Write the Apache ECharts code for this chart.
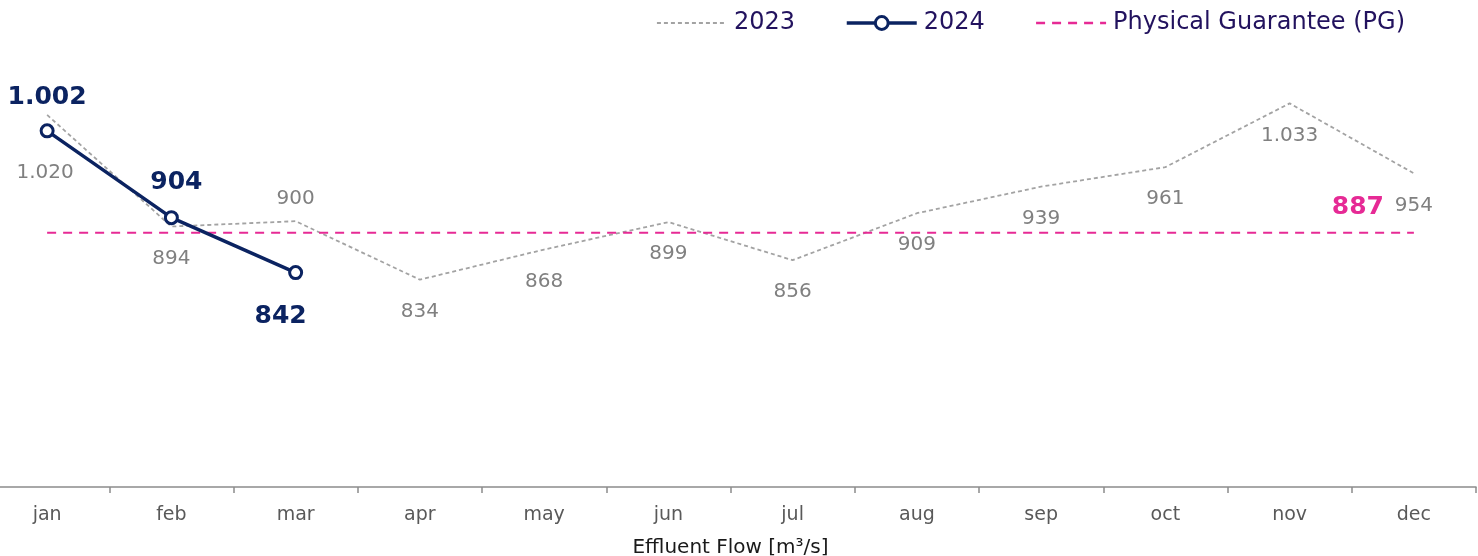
<!DOCTYPE html>
<html>
<head>
<meta charset="utf-8">
<script src="https://cdn.jsdelivr.net/npm/echarts@6/dist/echarts.min.js"></script>
<style>
  html, body { margin: 0; padding: 0; background: #ffffff; }
  #chart { width: 1478px; height: 556px; }
</style>
</head>
<body>
<div id="chart"></div>
<script>
// Monthly effluent flow, m³/s
const months = ['jan', 'feb', 'mar', 'apr', 'may', 'jun', 'jul', 'aug', 'sep', 'oct', 'nov', 'dec'];
const flow2023 = [1020, 894, 900, 834, 868, 899, 856, 909, 939, 961, 1033, 954];
const flow2024 = [1002, 904, 842];
const physicalGuarantee = 887;

const NAVY = '#0b2361';
const PINK = '#e62a95';
const GREY_LINE = '#a3a3a3';
const GREY_TEXT = '#808080';
const FONT = 'DejaVu Sans';

// Thousands separator as a dot, e.g. 1.020
const fmt = v => String(v).replace(/\B(?=(\d{3})+(?!\d))/g, '.');

// Per-point label placement for the 2023 series
const data2023 = flow2023.map((v, i) => {
  const item = { value: v };
  if (i === 0) item.label = { position: 'bottom', distance: 48, offset: [-2, 0] };
  if (i === 2) item.label = { position: 'top', distance: 12 };
  return item;
});

// Per-point label placement for the 2024 series
const data2024 = flow2024.map((v, i) => {
  const item = { value: v };
  if (i === 1) item.label = { position: 'top', offset: [5, -2] };
  if (i === 2) item.label = { position: 'bottom', distance: 24, offset: [-15, 0] };
  return item;
});

// PG reference line, labelled at its right end
const pgData = months.map((m, i) => {
  const item = { value: physicalGuarantee };
  if (i === months.length - 1) {
    item.label = {
      show: true, position: 'top', distance: 13, offset: [-56, 0],
      color: PINK, fontFamily: FONT, fontWeight: 'bold', fontSize: 25,
      formatter: p => fmt(p.value)
    };
  }
  return item;
});

const chart = echarts.init(document.getElementById('chart'), null, { renderer: 'canvas' });

chart.setOption({
  animation: false,
  backgroundColor: '#ffffff',
  grid: { left: -15, right: 2, top: 44, bottom: 69, containLabel: false, outerBoundsMode: 'none' },
  legend: {
    data: [
      { name: '2023', itemStyle: { opacity: 0 }, lineStyle: { width: 1.8, type: [4, 3] } },
      { name: '2024', lineStyle: { width: 3.5 }, itemStyle: { borderWidth: 3 } },
      { name: 'Physical Guarantee (PG)', itemStyle: { opacity: 0 }, lineStyle: { width: 2.5, type: [9, 7] } }
    ],
    right: 68,
    top: 6,
    itemWidth: 70,
    itemHeight: 16,
    itemGap: 50,
    textStyle: { color: '#22125e', fontSize: 24, fontFamily: FONT, padding: [0, 0, 0, 2] }
  },
  xAxis: {
    type: 'category',
    data: months,
    boundaryGap: true,
    axisLine: { show: true, lineStyle: { color: '#8c8c8c', width: 1.5 } },
    axisTick: { show: true, length: 6, lineStyle: { color: '#8c8c8c', width: 1.5 } },
    axisLabel: { color: '#595959', fontSize: 19, fontFamily: FONT, margin: 19 },
    name: 'Effluent Flow [m³/s]',
    nameLocation: 'middle',
    nameGap: 51,
    nameTextStyle: { color: '#1a1a1a', fontSize: 20, fontFamily: FONT }
  },
  yAxis: {
    type: 'value',
    min: 600,
    max: 1100,
    show: false,
    splitLine: { show: false }
  },
  series: [
    {
      name: '2023',
      type: 'line',
      data: data2023,
      symbol: 'circle',
      symbolSize: 0.1,
      itemStyle: { color: GREY_LINE },
      lineStyle: { color: GREY_LINE, width: 1.8, type: [4, 3] },
      label: {
        show: true, position: 'bottom', distance: 22,
        color: GREY_TEXT, fontSize: 20, fontFamily: FONT,
        formatter: p => fmt(p.value)
      },
      z: 2
    },
    {
      name: 'Physical Guarantee (PG)',
      type: 'line',
      data: pgData,
      symbol: 'circle',
      symbolSize: 0.1,
      itemStyle: { color: PINK },
      lineStyle: { color: PINK, width: 2, type: [9, 7] },
      label: { show: false },
      z: 3
    },
    {
      name: '2024',
      type: 'line',
      data: data2024,
      symbol: 'circle',
      symbolSize: 12,
      itemStyle: { color: '#ffffff', borderColor: NAVY, borderWidth: 3 },
      lineStyle: { color: NAVY, width: 3.5 },
      label: {
        show: true, position: 'top', distance: 13,
        color: NAVY, fontSize: 25, fontWeight: 'bold', fontFamily: FONT,
        formatter: p => fmt(p.value)
      },
      z: 4
    }
  ]
});
</script>
</body>
</html>
